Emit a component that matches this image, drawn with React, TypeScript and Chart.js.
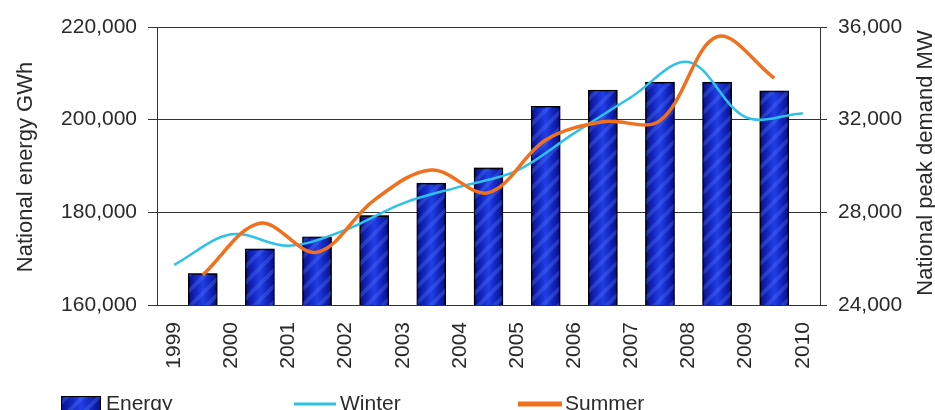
import { useEffect, useRef } from "react";
import { Chart, registerables } from "chart.js";

Chart.register(...registerables);

const years = ["1999", "2000", "2001", "2002", "2003", "2004", "2005", "2006", "2007", "2008", "2009", "2010"];
// bars sit between year ticks (0.5, 1.5, ...)
const energy = [166800, 172100, 174700, 179300, 186300, 189600, 202900, 206400, 208100, 208100, 206200];
// winter peak points sit on the year ticks
const winter = [25730, 27050, 26560, 27240, 28390, 29110, 29800, 31420, 32980, 34490, 32110, 32280];
// summer peak points sit on the bar centres
const summer = [25300, 27530, 26280, 28530, 29830, 28850, 31120, 31910, 31960, 35580, 33790];

const FONT = '"Liberation Sans", Arial, sans-serif';
const TEXT = "#2a2a2a";
const GRID = "#333333";

function stripePattern(): CanvasPattern | string {
  const c = document.createElement("canvas");
  c.width = 16;
  c.height = 16;
  const g = c.getContext("2d");
  if (!g) return "rgba(0,0,0,0)";
  g.strokeStyle = "rgba(90,130,255,0.3)";
  g.lineWidth = 4;
  g.beginPath();
  g.moveTo(0, 16); g.lineTo(16, 0);
  g.moveTo(-8, 8); g.lineTo(8, -8);
  g.moveTo(8, 24); g.lineTo(24, 8);
  g.stroke();
  return g.createPattern(c, "repeat") ?? "rgba(0,0,0,0)";
}

function barGradient(ctx: CanvasRenderingContext2D, x0: number, x1: number) {
  const g = ctx.createLinearGradient(x0, 0, x1, 0);
  g.addColorStop(0, "#070e8e");
  g.addColorStop(0.5, "#203ee8");
  g.addColorStop(1, "#070e8e");
  return g;
}

export default function App() {
  const ref = useRef<HTMLCanvasElement | null>(null);
  const chartRef = useRef<Chart | null>(null);

  useEffect(() => {
    if (!ref.current) return;
    chartRef.current?.destroy();
    const ctx = ref.current.getContext("2d");
    if (!ctx) return;
    const stripes = stripePattern();

    // shaded body under each energy bar, using the bar elements' own geometry
    const barShade = {
      id: "barShade",
      beforeDatasetDraw(chart: Chart, args: any) {
        if (chart.data.datasets[args.index]?.label !== "Energy") return;
        const c = chart.ctx;
        const area = chart.chartArea;
        c.save();
        c.beginPath();
        c.rect(area.left, area.top, area.right - area.left, area.bottom - area.top);
        c.clip();
        for (const el of args.meta.data as any[]) {
          const { x, y, base, width } = el.getProps(["x", "y", "base", "width"], true);
          const bottom = Math.min(base, area.bottom);
          c.fillStyle = barGradient(c, x - width / 2, x + width / 2);
          c.fillRect(x - width / 2, y, width, bottom - y);
        }
        c.restore();
      },
    };

    const extras = {
      id: "extras",
      afterDraw(chart: Chart) {
        const c = chart.ctx;
        c.save();
        c.fillStyle = TEXT;
        c.font = `22px ${FONT}`;
        c.textAlign = "center";
        c.textBaseline = "alphabetic";
        // axis titles, both read bottom to top
        c.save();
        c.translate(32, 167);
        c.rotate(-Math.PI / 2);
        c.fillText("National energy GWh", 0, 0);
        c.restore();
        c.save();
        c.translate(932, 163);
        c.rotate(-Math.PI / 2);
        c.fillText("National peak demand MW", 0, 0);
        c.restore();

        // legend
        c.font = `21px ${FONT}`;
        c.textAlign = "left";
        c.fillStyle = barGradient(c, 61, 101);
        c.fillRect(61, 396, 40, 14);
        c.fillStyle = stripes;
        c.fillRect(61, 396, 40, 14);
        c.strokeStyle = "#000";
        c.lineWidth = 1;
        c.strokeRect(61.5, 396.5, 39, 14);
        c.fillStyle = TEXT;
        c.fillText("Energy", 106, 410);

        c.strokeStyle = "#2ec2ea";
        c.lineWidth = 3;
        c.beginPath();
        c.moveTo(294, 404);
        c.lineTo(336, 404);
        c.stroke();
        c.fillText("Winter", 340, 410);

        c.strokeStyle = "#f0701e";
        c.lineWidth = 5;
        c.beginPath();
        c.moveTo(518, 404);
        c.lineTo(562, 404);
        c.stroke();
        c.fillText("Summer", 565, 410);
        c.restore();
      },
    };

    chartRef.current = new Chart(ctx, {
      type: "bar",
      data: {
        datasets: [
          {
            type: "line",
            label: "Summer",
            data: summer.map((v, i) => ({ x: i + 0.5, y: v })),
            yAxisID: "y1",
            borderColor: "#f0701e",
            borderWidth: 3.5,
            pointRadius: 0,
            tension: 0.35,
            order: 1,
          },
          {
            type: "line",
            label: "Winter",
            data: winter.map((v, i) => ({ x: i, y: v })),
            yAxisID: "y1",
            borderColor: "#2ec2ea",
            borderWidth: 2.5,
            pointRadius: 0,
            tension: 0.35,
            order: 2,
          },
          {
            type: "bar",
            label: "Energy",
            data: energy.map((v, i) => ({ x: i + 0.5, y: v })),
            yAxisID: "y",
            backgroundColor: stripes,
            borderColor: "#000",
            borderWidth: 1,
            barThickness: 29,
            order: 3,
          },
        ],
      },
      options: {
        animation: false,
        responsive: true,
        maintainAspectRatio: false,
        layout: { padding: { top: 27, left: 0, right: 0, bottom: 0 } },
        plugins: { legend: { display: false }, tooltip: { enabled: false } },
        scales: {
          x: {
            type: "linear",
            offset: false,
            min: -0.3,
            max: 11.3,
            afterBuildTicks: (s: any) => {
              s.ticks = years.map((_, i) => ({ value: i }));
            },
            afterFit: (s: any) => {
              s.height = 105;
            },
            ticks: {
              callback: (v: any) => years[Math.round(Number(v))] ?? "",
              autoSkip: false,
              maxRotation: 90,
              minRotation: 90,
              padding: 17,
              color: TEXT,
              font: { family: FONT, size: 21 },
            },
            grid: { display: false, drawTicks: false, offset: false },
            border: { display: false },
          },
          y: {
            position: "left",
            min: 160000,
            max: 220000,
            afterFit: (s: any) => {
              s.width = 157;
            },
            ticks: {
              stepSize: 20000,
              padding: 11,
              color: TEXT,
              font: { family: FONT, size: 21 },
              callback: (v: any) => Number(v).toLocaleString("en-US"),
            },
            grid: { color: GRID, lineWidth: 1, tickLength: 9 },
            border: { display: true, color: GRID, width: 1 },
          },
          y1: {
            position: "right",
            min: 24000,
            max: 36000,
            afterFit: (s: any) => {
              s.width = 115;
            },
            ticks: {
              stepSize: 4000,
              padding: 11,
              color: TEXT,
              font: { family: FONT, size: 21 },
              callback: (v: any) => Number(v).toLocaleString("en-US"),
            },
            grid: { color: GRID, lineWidth: 1, tickLength: 7, drawOnChartArea: false },
            border: { display: true, color: GRID, width: 1 },
          },
        },
      },
      plugins: [barShade, extras],
    });

    return () => chartRef.current?.destroy();
  }, []);

  return (
    <div style={{ position: "fixed", left: 0, top: 0, width: 935, height: 410, background: "#fff" }}>
      <canvas ref={ref} />
    </div>
  );
}
